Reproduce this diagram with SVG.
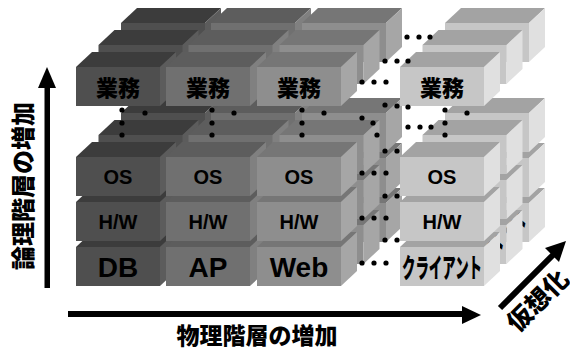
<svg xmlns="http://www.w3.org/2000/svg" xmlns:xlink="http://www.w3.org/1999/xlink" width="570" height="351" viewBox="0 0 570 351">
<style>
.db{--f:#4f4f4f;--t:#3c3c3c;--s:#5c5c5c}
.ap{--f:#707070;--t:#5d5d5d;--s:#808080}
.web{--f:#8e8e8e;--t:#767676;--s:#a6a6a6}
.cl{--f:#c6c6c6;--t:#a3a3a3;--s:#e0e0e0}
.en{font-family:"Liberation Sans",Arial,sans-serif;font-weight:bold;text-anchor:middle;fill:#000}
.jp{font-family:"Noto Sans CJK JP","Noto Sans",sans-serif;font-weight:900;text-anchor:middle;fill:#000}
.dot{fill:#000}
</style>
<defs>
<g id="box">
<rect width="84" height="39" style="fill:var(--f)"/>
<polygon points="0,0 84,0 100,-15 16,-15" style="fill:var(--t)"/>
<polygon points="84,0 100,-15 100,24 84,39" style="fill:var(--s)"/>
</g>
</defs>

<!-- back layer (2) -->
<g id="layer-back">
<g id="db-back-db" class="db"><use xlink:href="#box" x="121" y="203"/></g>
<g id="db-back-hw" class="db"><use xlink:href="#box" x="121" y="158"/></g>
<g id="db-back-os" class="db"><use xlink:href="#box" x="121" y="113"/></g>
<g id="db-back-gyomu" class="db"><use xlink:href="#box" x="121" y="23"/></g>
<g id="ap-back-db" class="ap"><use xlink:href="#box" x="211" y="203"/></g>
<g id="ap-back-hw" class="ap"><use xlink:href="#box" x="211" y="158"/></g>
<g id="ap-back-os" class="ap"><use xlink:href="#box" x="211" y="113"/></g>
<g id="ap-back-gyomu" class="ap"><use xlink:href="#box" x="211" y="23"/></g>
<g id="web-back-db" class="web"><use xlink:href="#box" x="302" y="203"/></g>
<g id="web-back-hw" class="web"><use xlink:href="#box" x="302" y="158"/></g>
<g id="web-back-os" class="web"><use xlink:href="#box" x="302" y="113"/></g>
<g id="web-back-gyomu" class="web"><use xlink:href="#box" x="302" y="23"/></g>
<g id="cl-back-db" class="cl"><use xlink:href="#box" x="445" y="203"/><text class="jp" x="487" y="234" font-size="27" textLength="80" lengthAdjust="spacingAndGlyphs">クライアント</text></g>
<g id="cl-back-hw" class="cl"><use xlink:href="#box" x="445" y="158"/></g>
<g id="cl-back-os" class="cl"><use xlink:href="#box" x="445" y="113"/></g>
<g id="cl-back-gyomu" class="cl"><use xlink:href="#box" x="445" y="23"/></g>
</g>

<!-- middle layer (1) -->
<g id="layer-middle">
<g id="db-mid-db" class="db"><use xlink:href="#box" x="98.5" y="225"/></g>
<g id="db-mid-hw" class="db"><use xlink:href="#box" x="98.5" y="180"/></g>
<g id="db-mid-os" class="db"><use xlink:href="#box" x="98.5" y="135"/></g>
<g id="db-mid-gyomu" class="db"><use xlink:href="#box" x="98.5" y="45"/></g>
<g id="ap-mid-db" class="ap"><use xlink:href="#box" x="188.5" y="225"/></g>
<g id="ap-mid-hw" class="ap"><use xlink:href="#box" x="188.5" y="180"/></g>
<g id="ap-mid-os" class="ap"><use xlink:href="#box" x="188.5" y="135"/></g>
<g id="ap-mid-gyomu" class="ap"><use xlink:href="#box" x="188.5" y="45"/></g>
<g id="web-mid-db" class="web"><use xlink:href="#box" x="279.5" y="225"/></g>
<g id="web-mid-hw" class="web"><use xlink:href="#box" x="279.5" y="180"/></g>
<g id="web-mid-os" class="web"><use xlink:href="#box" x="279.5" y="135"/></g>
<g id="web-mid-gyomu" class="web"><use xlink:href="#box" x="279.5" y="45"/></g>
<g id="cl-mid-db" class="cl"><use xlink:href="#box" x="422.5" y="225"/><text class="jp" x="464.5" y="256" font-size="27" textLength="80" lengthAdjust="spacingAndGlyphs">クライアント</text></g>
<g id="cl-mid-hw" class="cl"><use xlink:href="#box" x="422.5" y="180"/></g>
<g id="cl-mid-os" class="cl"><use xlink:href="#box" x="422.5" y="135"/></g>
<g id="cl-mid-gyomu" class="cl"><use xlink:href="#box" x="422.5" y="45"/></g>
</g>

<!-- front layer (0) -->
<g id="layer-front">
<g id="db-db" class="db"><use xlink:href="#box" x="76" y="247"/><text class="en" x="118" y="277" font-size="28">DB</text></g>
<g id="db-hw" class="db"><use xlink:href="#box" x="76" y="202"/><text class="en" x="118" y="229" font-size="20">H/W</text></g>
<g id="db-os" class="db"><use xlink:href="#box" x="76" y="157"/><text class="en" x="118" y="184" font-size="20">OS</text></g>
<g id="db-gyomu" class="db"><use xlink:href="#box" x="76" y="67"/><text class="jp" x="118" y="96" font-size="22">業務</text></g>
<g id="ap-db" class="ap"><use xlink:href="#box" x="166" y="247"/><text class="en" x="208" y="277" font-size="28">AP</text></g>
<g id="ap-hw" class="ap"><use xlink:href="#box" x="166" y="202"/><text class="en" x="208" y="229" font-size="20">H/W</text></g>
<g id="ap-os" class="ap"><use xlink:href="#box" x="166" y="157"/><text class="en" x="208" y="184" font-size="20">OS</text></g>
<g id="ap-gyomu" class="ap"><use xlink:href="#box" x="166" y="67"/><text class="jp" x="208" y="96" font-size="22">業務</text></g>
<g id="web-db" class="web"><use xlink:href="#box" x="257" y="247"/><text class="en" x="299" y="277" font-size="28">Web</text></g>
<g id="web-hw" class="web"><use xlink:href="#box" x="257" y="202"/><text class="en" x="299" y="229" font-size="20">H/W</text></g>
<g id="web-os" class="web"><use xlink:href="#box" x="257" y="157"/><text class="en" x="299" y="184" font-size="20">OS</text></g>
<g id="web-gyomu" class="web"><use xlink:href="#box" x="257" y="67"/><text class="jp" x="299" y="96" font-size="22">業務</text></g>
<g id="cl-db" class="cl"><use xlink:href="#box" x="400" y="247"/><text class="jp" x="442" y="278" font-size="27" textLength="80" lengthAdjust="spacingAndGlyphs">クライアント</text></g>
<g id="cl-hw" class="cl"><use xlink:href="#box" x="400" y="202"/><text class="en" x="442" y="229" font-size="20">H/W</text></g>
<g id="cl-os" class="cl"><use xlink:href="#box" x="400" y="157"/><text class="en" x="442" y="184" font-size="20">OS</text></g>
<g id="cl-gyomu" class="cl"><use xlink:href="#box" x="400" y="67"/><text class="jp" x="442" y="96" font-size="22">業務</text></g>
</g>

<!-- continuation dots -->
<g id="connectors">
<g class="dot">
<circle cx="122" cy="110" r="2.6"/><circle cx="122" cy="123" r="2.6"/><circle cx="122" cy="135" r="2.6"/><circle cx="145" cy="113" r="2.6"/>
<circle cx="212" cy="110" r="2.6"/><circle cx="212" cy="123" r="2.6"/><circle cx="212" cy="135" r="2.6"/><circle cx="234" cy="113" r="2.6"/>
<circle cx="302" cy="110" r="2.6"/><circle cx="302" cy="123" r="2.6"/><circle cx="302" cy="135" r="2.6"/><circle cx="324" cy="113" r="2.6"/>
<circle cx="445" cy="110" r="2.6"/><circle cx="445" cy="123" r="2.6"/><circle cx="445" cy="135" r="2.6"/><circle cx="467" cy="113" r="2.6"/>
<circle cx="362" cy="82" r="2.6"/><circle cx="374" cy="82" r="2.6"/><circle cx="386" cy="82" r="2.6"/>
<circle cx="362" cy="173" r="2.6"/><circle cx="374" cy="173" r="2.6"/><circle cx="386" cy="173" r="2.6"/>
<circle cx="362" cy="218" r="2.6"/><circle cx="374" cy="218" r="2.6"/><circle cx="386" cy="218" r="2.6"/>
<circle cx="362" cy="263" r="2.6"/><circle cx="374" cy="263" r="2.6"/><circle cx="386" cy="263" r="2.6"/>
<circle cx="385" cy="61" r="2.6"/><circle cx="397" cy="61" r="2.6"/><circle cx="408" cy="61" r="2.6"/>
<circle cx="385" cy="151" r="2.6"/><circle cx="397" cy="151" r="2.6"/>
<circle cx="385" cy="196" r="2.6"/><circle cx="397" cy="196" r="2.6"/>
<circle cx="385" cy="240" r="2.6"/><circle cx="397" cy="240" r="2.6"/>
<circle cx="407" cy="37" r="2.6"/><circle cx="419" cy="37" r="2.6"/><circle cx="430" cy="37" r="2.6"/>
<circle cx="408" cy="127" r="2.6"/><circle cx="420" cy="127" r="2.6"/><circle cx="431" cy="127" r="2.6"/>
<circle cx="385" cy="105" r="2.6"/><circle cx="397" cy="106" r="2.6"/><circle cx="408" cy="107" r="2.6"/>
<circle cx="373" cy="123" r="2.6"/><circle cx="377" cy="135" r="2.6"/><circle cx="362" cy="118" r="2.6"/>
</g>
</g>

<!-- axes -->
<g id="axis-logical">
<rect x="44.5" y="85" width="5.5" height="203" fill="#000"/>
<polygon points="38,88 56,88 47,67" fill="#000"/>
<text class="jp" transform="translate(23,186) rotate(-90)" y="8.5" font-size="24">論理階層の増加</text>
</g>
<g id="axis-physical">
<rect x="68" y="311" width="396" height="6" fill="#000"/>
<polygon points="462,306 481,315 462,324" fill="#000"/>
<text class="jp" x="257" y="344" font-size="23">物理階層の増加</text>
</g>
<g id="axis-virtual">
<line x1="500" y1="308" x2="554" y2="254" stroke="#000" stroke-width="6"/>
<polygon points="566,241 559,262 545,248" fill="#000"/>
<text class="jp" transform="translate(538,301) rotate(-45)" y="8.5" font-size="25">仮想化</text>
</g>
</svg>
